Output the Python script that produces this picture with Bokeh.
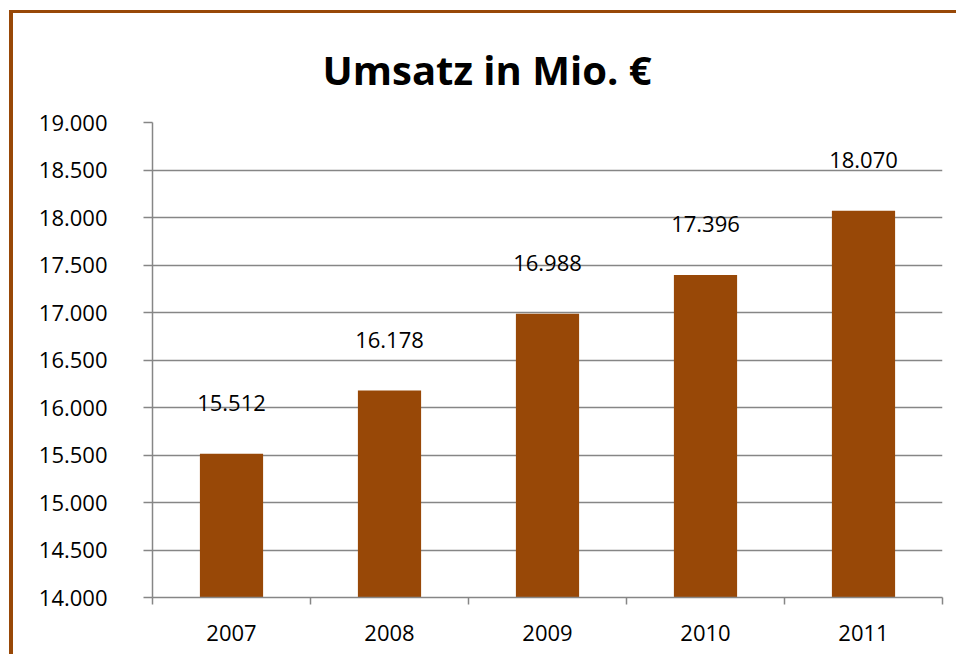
from bokeh.plotting import figure
from bokeh.models import FixedTicker, Range1d, ColumnDataSource
from bokeh.embed import file_html
from bokeh.resources import INLINE
from bokeh.core.properties import value

years = ["2007", "2008", "2009", "2010", "2011"]
umsatz = [15512, 16178, 16988, 17396, 18070]
value_labels = ["15.512", "16.178", "16.988", "17.396", "18.070"]
y_ticks = [14000, 14500, 15000, 15500, 16000, 16500, 17000, 17500, 18000, 18500, 19000]
y_tick_labels = ["14.000", "14.500", "15.000", "15.500", "16.000", "16.500",
                 "17.000", "17.500", "18.000", "18.500", "19.000"]
title_text = "Umsatz in Mio. €"

BROWN = "#984807"
GRAY = "#868686"
FONT = "Open Sans"

xs = list(range(1, len(years) + 1))
src = ColumnDataSource(dict(x=xs, top=umsatz, lab=value_labels))

p = figure(width=947, height=644, output_backend="svg", toolbar_location=None,
           x_range=Range1d(0.5, len(years) + 0.5), y_range=Range1d(14000, 19000),
           min_border_left=139, min_border_right=18, min_border_top=109, min_border_bottom=60)
p.styles = {"position": "absolute", "left": "9px", "top": "10px",
            "border-left": "4px solid " + BROWN, "border-top": "3px solid " + BROWN,
            "border-right": "none", "border-bottom": "none"}

p.title.text = title_text
p.title.text_font = FONT
p.title.text_font_size = "40px"
p.title.text_font_style = "bold"
p.title.align = "left"
p.title.offset = 170
p.title.standoff = 52
p.title.text_color = "black"

p.vbar(x="x", top="top", bottom=14000, width=0.4, source=src,
       fill_color=BROWN, line_color=None)
p.text(x="x", y="top", text="lab", source=src, text_align="center",
       text_baseline="middle", y_offset=-51, text_font=value(FONT),
       text_font_size="22px", text_color="black")

p.outline_line_color = None
p.background_fill_color = "white"
p.border_fill_color = "white"

p.xgrid.grid_line_color = None
p.ygrid.grid_line_color = GRAY
p.ygrid.grid_line_width = 1.5
p.ygrid.ticker = FixedTicker(ticks=y_ticks)

p.yaxis.ticker = FixedTicker(ticks=y_ticks)
p.yaxis.major_label_overrides = {t: l for t, l in zip(y_ticks, y_tick_labels)}
p.yaxis.axis_line_color = GRAY
p.yaxis.axis_line_width = 1.5
p.yaxis.major_tick_line_color = GRAY
p.yaxis.major_tick_line_width = 1.5
p.yaxis.major_tick_out = 9
p.yaxis.major_tick_in = 0
p.yaxis.minor_tick_line_color = None
p.yaxis.major_label_standoff = 36

p.xaxis.ticker = FixedTicker(ticks=xs, minor_ticks=[i + 0.5 for i in range(len(years) + 1)])
p.xaxis.major_label_overrides = {x: y for x, y in zip(xs, years)}
p.xaxis.axis_line_color = GRAY
p.xaxis.axis_line_width = 1.5
p.xaxis.major_tick_line_color = None
p.xaxis.major_tick_out = 0
p.xaxis.major_tick_in = 0
p.xaxis.minor_tick_line_color = GRAY
p.xaxis.minor_tick_line_width = 1.5
p.xaxis.minor_tick_out = 7
p.xaxis.minor_tick_in = 0
p.xaxis.major_label_standoff = 20

for ax in (p.xaxis, p.yaxis):
    ax.major_label_text_font = FONT
    ax.major_label_text_font_size = "22px"
    ax.major_label_text_color = "black"

open("out.html", "w").write(file_html(p, INLINE))
